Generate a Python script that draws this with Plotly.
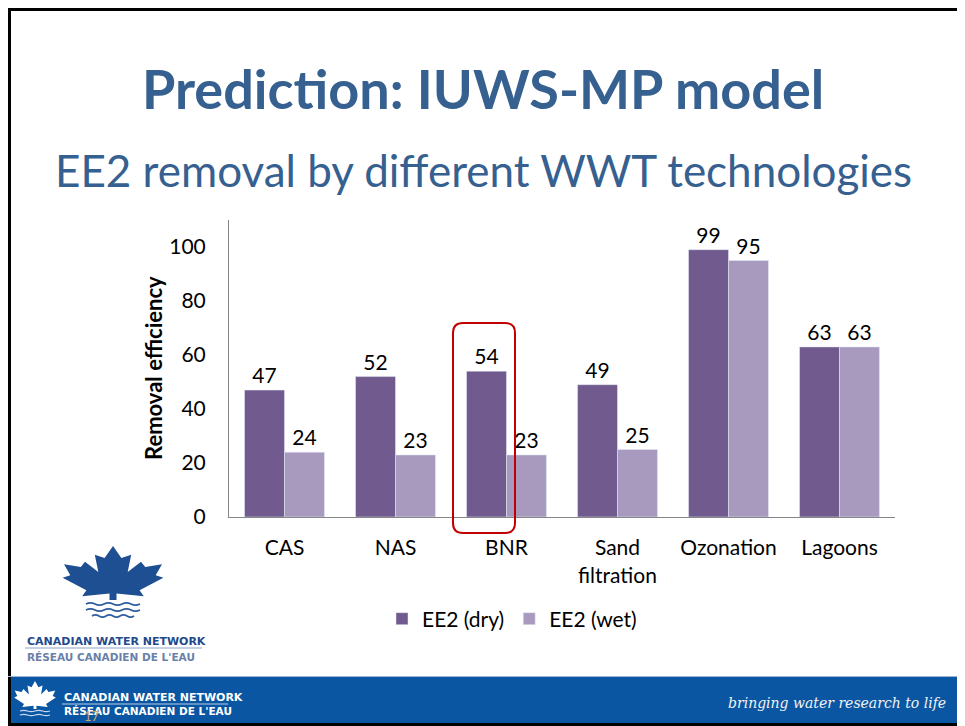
import plotly.graph_objects as go

# ---------------- data ----------------
categories = ["CAS", "NAS", "BNR", "Sand<br>filtration", "Ozonation", "Lagoons"]
ee2_dry = [47, 52, 54, 49, 99, 63]
ee2_wet = [24, 23, 23, 25, 95, 63]
series_names = ["EE2 (dry)", "EE2 (wet)"]
y_ticks = [0, 20, 40, 60, 80, 100]

title_text = "Prediction: IUWS-MP model"
subtitle_text = "EE2 removal by different WWT technologies"
y_title = "Removal efficiency"

DARK = "#705A8E"
LIGHT = "#A899BF"
BLUE = "#36608F"
FONT = "Lato, Carlito, Calibri, sans-serif"

OFF = 8  # page body margin: figure starts at page pixel (8, 8)
W, H = 965 - OFF, 726 - OFF
# plot area in page pixels
L, R, T, B = 229, 895, 220, 517


def px(x):
    return (x - L) / (R - L)


def py(y):
    return (B - y) / (B - T)


fig = go.Figure()
fig.add_trace(go.Bar(x=categories, y=ee2_dry, name=series_names[0], marker_color=DARK,
                     text=ee2_dry, textposition="outside", cliponaxis=False,
                     textfont=dict(size=21, color="#000000")))
fig.add_trace(go.Bar(x=categories, y=ee2_wet, name=series_names[1], marker_color=LIGHT,
                     text=ee2_wet, textposition="outside", cliponaxis=False,
                     textfont=dict(size=21, color="#000000")))

shapes = []
annotations = []

# slide border
shapes.append(dict(type="rect", xref="paper", yref="paper",
                   x0=px(OFF + 1.5), x1=px(959.5), y0=py(OFF + 1.5), y1=py(724.5),
                   line=dict(color="#000000", width=3), fillcolor="rgba(0,0,0,0)", layer="above"))
# footer band
shapes.append(dict(type="rect", xref="paper", yref="paper",
                   x0=px(OFF), x1=px(958), y0=py(677), y1=py(723),
                   line=dict(width=0), fillcolor="#0A56A2", layer="below"))
shapes.append(dict(type="line", xref="paper", yref="paper",
                   x0=px(OFF), x1=px(958), y0=py(676.5), y1=py(676.5),
                   line=dict(color="#9DB6D6", width=1)))

# red highlight box around BNR (rounded)
x0, x1, y0, y1, r = 453, 515, 323, 533, 10
pts = [f"M {px(x0 + r)},{py(y0)}", f"L {px(x1 - r)},{py(y0)}",
       f"Q {px(x1)},{py(y0)} {px(x1)},{py(y0 + r)}", f"L {px(x1)},{py(y1 - r)}",
       f"Q {px(x1)},{py(y1)} {px(x1 - r)},{py(y1)}", f"L {px(x0 + r)},{py(y1)}",
       f"Q {px(x0)},{py(y1)} {px(x0)},{py(y1 - r)}", f"L {px(x0)},{py(y0 + r)}",
       f"Q {px(x0)},{py(y0)} {px(x0 + r)},{py(y0)}", "Z"]
shapes.append(dict(type="path", xref="paper", yref="paper", path=" ".join(pts),
                   line=dict(color="#C00000", width=2), fillcolor="rgba(0,0,0,0)", layer="above"))

# maple leaf outline (normalized, y up)
half = [(0, 1.0), (0.12, 0.78), (0.26, 0.84), (0.21, 0.52), (0.40, 0.71), (0.46, 0.61),
        (0.70, 0.66), (0.61, 0.46), (0.72, 0.41), (0.38, 0.18), (0.44, 0.07), (0.05, 0.12),
        (0.05, 0.0)]
leaf = half + [(-x, y) for (x, y) in reversed(half[1:])]


def leaf_path(cx, by, sx, sy):
    s = []
    for i, (x, y) in enumerate(leaf):
        s.append(("M " if i == 0 else "L ") + f"{px(cx + x * sx)},{py(by - y * sy)}")
    return " ".join(s) + " Z"


def wave_path(xa, xb, y, amp, n):
    step = (xb - xa) / (2 * n)
    s = f"M {px(xa)},{py(y)}"
    for k in range(2 * n):
        xs = xa + k * step
        sign = -1 if k % 2 == 0 else 1
        s += f" Q {px(xs + step / 2)},{py(y + sign * amp)} {px(xs + step)},{py(y)}"
    return s


# big logo
shapes.append(dict(type="path", xref="paper", yref="paper", path=leaf_path(113, 600, 70, 54),
                   line=dict(width=0), fillcolor="#1F4F93"))
for yy, xa, xb in [(604, 86, 140), (610, 86, 140), (616, 92, 134)]:
    shapes.append(dict(type="path", xref="paper", yref="paper", path=wave_path(xa, xb, yy, 2.2, 3),
                       line=dict(color="#2E5E9E", width=1.8)))
shapes.append(dict(type="line", xref="paper", yref="paper", x0=px(25), x1=px(202),
                   y0=py(648), y1=py(648), line=dict(color="#8CA3C8", width=1)))
# footer logo
shapes.append(dict(type="path", xref="paper", yref="paper", path=leaf_path(35, 709, 29, 28),
                   line=dict(width=0), fillcolor="#FFFFFF"))
for yy in [711, 715]:
    shapes.append(dict(type="path", xref="paper", yref="paper", path=wave_path(20, 50, yy, 1.3, 2),
                       line=dict(color="#C8D8F0", width=1.2)))
shapes.append(dict(type="line", xref="paper", yref="paper", x0=px(62), x1=px(228),
                   y0=py(704), y1=py(704), line=dict(color="#B8CCE8", width=1)))


def ann(text, x, y, size, color="#000000", bold=False, xanchor="center", family=FONT, **kw):
    annotations.append(dict(text=f"<b>{text}</b>" if bold else text, x=px(x), y=py(y),
                            xref="paper", yref="paper", xanchor=xanchor, yanchor="middle",
                            showarrow=False, font=dict(size=size, color=color, family=family), **kw))


ann(title_text, 483, 89, 54, BLUE, bold=True)
ann(subtitle_text, 483, 170, 44, BLUE)
ann(y_title, 153, 368, 22, bold=True, textangle=-90)
ann("CANADIAN WATER NETWORK", 25, 641, 11, "#23498A", bold=True, xanchor="left", family="DejaVu Sans")
ann("RÉSEAU CANADIEN DE L'EAU", 25, 657, 10.5, "#6A80A8", bold=True, xanchor="left", family="DejaVu Sans")
ann("CANADIAN WATER NETWORK", 62, 697, 11, "#FFFFFF", bold=True, xanchor="left", family="DejaVu Sans")
ann("RÉSEAU CANADIEN DE L'EAU", 62, 711, 10.5, "#FFFFFF", bold=True, xanchor="left", family="DejaVu Sans")
ann("17", 92, 716, 13, "#C8A870")
ann("<i>bringing water research to life</i>", 948, 703, 14, "#F2F2F2", xanchor="right",
    family="DejaVu Serif")

fig.update_layout(
    width=W, height=H,
    margin=dict(l=L - OFF, r=(W + OFF) - R, t=T - OFF, b=(H + OFF) - B, pad=0),
    paper_bgcolor="#FFFFFF", plot_bgcolor="#FFFFFF",
    font=dict(family=FONT, size=21, color="#000000"),
    barmode="group", bargap=0.28, bargroupgap=0,
    showlegend=True,
    legend=dict(orientation="h", x=px(512), y=py(619), xanchor="center", yanchor="middle",
                font=dict(size=21), itemwidth=30, traceorder="normal"),
    shapes=shapes, annotations=annotations,
    xaxis=dict(showline=True, linecolor="#868686", linewidth=1, ticks="", showgrid=False,
               tickfont=dict(size=21), ticklabelstandoff=12),
    yaxis=dict(range=[0, 110], tickvals=y_ticks, showline=True, linecolor="#868686",
               linewidth=1, ticks="", showgrid=False, zeroline=False,
               tickfont=dict(size=21), ticklabelstandoff=18),
)

fig.write_html("out.html")
